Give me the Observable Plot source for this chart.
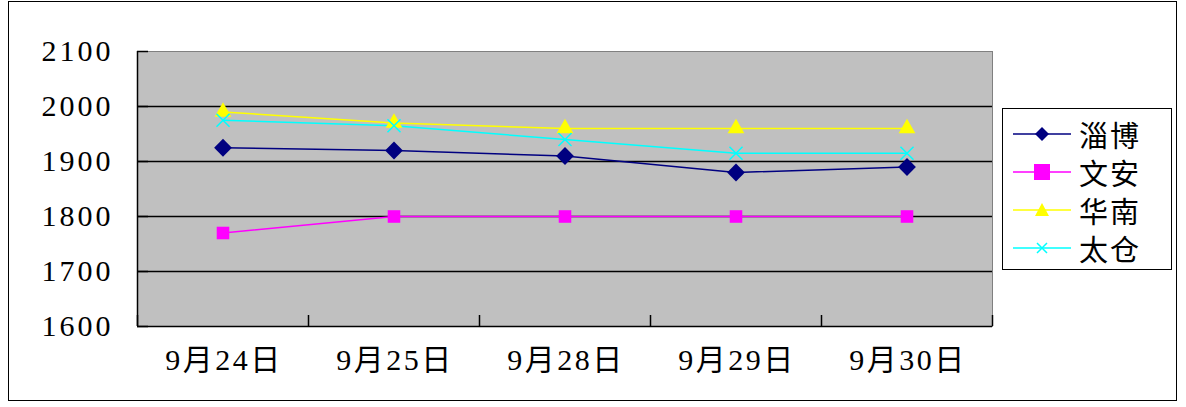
<!DOCTYPE html>
<html><head><meta charset="utf-8">
<script src="https://cdn.jsdelivr.net/npm/d3@7"></script>
<script src="https://cdn.jsdelivr.net/npm/@observablehq/plot@0.6"></script>
<style>
body{margin:0;background:#fff;}
#wrap{position:relative;width:1186px;height:407px;}
#border{position:absolute;left:8px;top:1px;width:1169px;height:400px;border:1.5px solid #000;box-sizing:border-box;}
#chart{position:absolute;left:0;top:0;}
#legend{position:absolute;left:1002px;top:108px;width:170px;height:162px;border:1.5px solid #000;box-sizing:border-box;background:#fff;font-family:"Noto Sans CJK SC",sans-serif;font-size:29px;}
.row{position:absolute;left:10px;height:38px;display:flex;align-items:center;}
.row span{margin-left:8px;line-height:38px;letter-spacing:2px;}
.ylab text{letter-spacing:3px;}
.xlab text{letter-spacing:2.5px;}
</style></head>
<body><div id="wrap"><div id="chart"></div><div id="border"></div><div id="legend"></div></div>
<script>
const dates = ["9月24日","9月25日","9月28日","9月29日","9月30日"];
const seriesNames = ["淄博","文安","华南","太仓"];
const zibo = [1925,1920,1910,1880,1890];
const wenan = [1770,1800,1800,1800,1800];
const huanan = [1990,1970,1960,1960,1960];
const taicang = [1975,1965,1940,1915,1915];
const yTicks = [1600,1700,1800,1900,2000,2100];
const colors = ["#000080","#ff00ff","#ffff00","#00ffff"];
const symbols = ["diamond2","square2","triangle2","times"];
const allValues = [zibo,wenan,huanan,taicang];

const data = [];
allValues.forEach((vals,s)=>vals.forEach((v,i)=>data.push({series:seriesNames[s],i,v})));
const filled = data.filter(d=>d.series!=="太仓");
const crossed = data.filter(d=>d.series==="太仓");

const W=1186,H=407,mL=137,mR=194,mT=51,mB=81;
const plotH=H-mT-mB, plotW=W-mL-mR;

const chart = Plot.plot({
  width:W,height:H,marginLeft:mL,marginRight:mR,marginTop:mT,marginBottom:mB,
  style:{background:"transparent",overflow:"visible"},
  x:{domain:[-0.5,dates.length-0.5],axis:null},
  y:{domain:[1600,2100],axis:null},
  color:{domain:seriesNames,range:colors},
  symbol:{domain:seriesNames,range:symbols},
  marks:[
    Plot.frame({fill:"#c0c0c0",stroke:"#808080"}),
    Plot.ruleY(yTicks.slice(1,-1),{stroke:"#000",strokeWidth:1.5}),
    Plot.ruleY(yTicks,{stroke:"#000",strokeWidth:1.5,insetRight:plotW-11}),
    Plot.ruleX(d3.range(dates.length+1).map(i=>i-0.5),{stroke:"#000",strokeWidth:1.5,insetTop:plotH-11}),
    Plot.ruleX([-0.5],{stroke:"#000",strokeWidth:1.5}),
    Plot.ruleY([1600],{stroke:"#000",strokeWidth:1.5}),
    Plot.axisY({ticks:yTicks,tickSize:0,tickPadding:24,label:null,tickFormat:d=>String(d),fontSize:30,fontFamily:"Liberation Serif",fill:"#000",className:"ylab"}),
    Plot.axisX({ticks:d3.range(dates.length),tickSize:0,tickPadding:22,label:null,tickFormat:i=>dates[i],fontSize:30,fontFamily:"'Liberation Serif','Noto Sans CJK SC'",fill:"#000",className:"xlab",dx:1}),
    Plot.line(data,{x:"i",y:"v",z:"series",stroke:"series",strokeWidth:1.5}),
    Plot.dot(filled,{x:"i",y:"v",symbol:"series",fill:"series",stroke:"none",r:8}),
    Plot.dot(crossed,{x:"i",y:"v",symbol:"series",stroke:"series",fill:"none",r:6,strokeWidth:1.5})
  ]
});
document.getElementById("chart").appendChild(chart);

// legend
const leg=document.getElementById("legend");
const symPaths={
  diamond2:'<path d="M29,4 L36,11 L29,18 L22,11Z" fill="#000080"/>',
  square2:'<rect x="21" y="3" width="16" height="16" fill="#ff00ff"/>',
  triangle2:'<path d="M29,4 L36,17 L22,17Z" fill="#ffff00"/>',
  times:'<path d="M24,6 L34,16 M34,6 L24,16" stroke="#00ffff" stroke-width="1.5"/>'
};
seriesNames.forEach((n,k)=>{
  const row=document.createElement("div");
  row.className="row";
  row.style.top=(6+k*38)+"px";
  row.innerHTML=`<svg width="58" height="22"><line x1="0" x2="58" y1="11" y2="11" stroke="${colors[k]}" stroke-width="1.5"/>${symPaths[symbols[k]]}</svg><span>${n}</span>`;
  leg.appendChild(row);
});
</script></body></html>
